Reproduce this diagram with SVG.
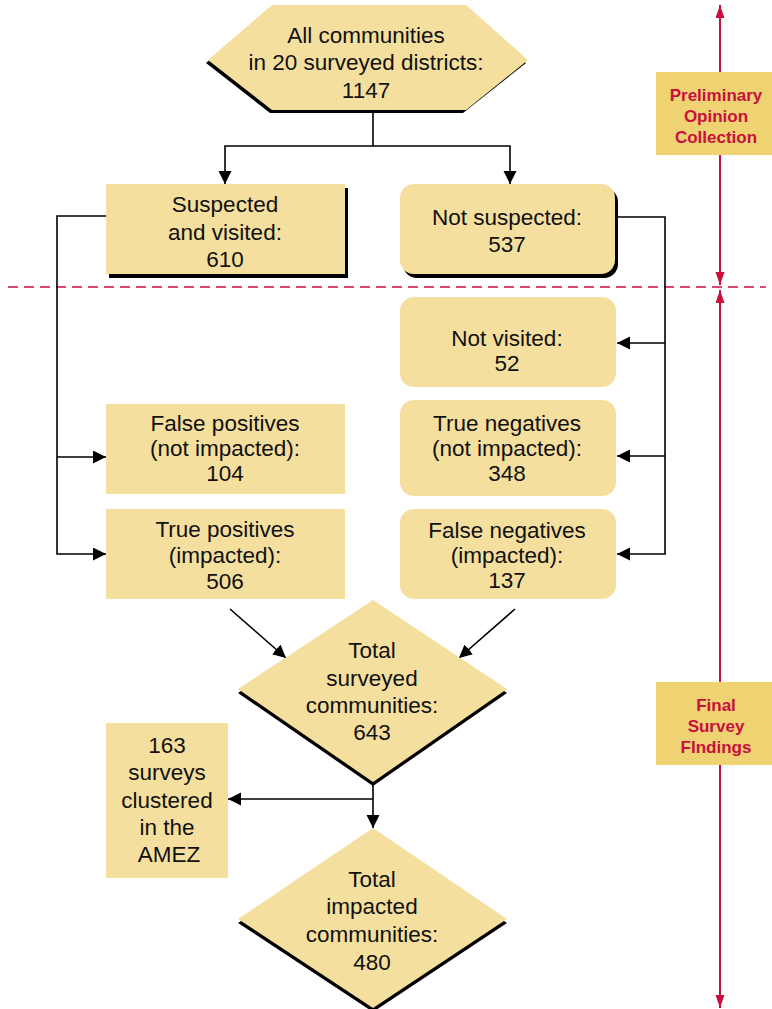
<svg xmlns="http://www.w3.org/2000/svg" width="772" height="1009" viewBox="0 0 772 1009">
<defs>
<style>
.n{fill:#F5DF9E}
.sh{fill:#000}
.t{font-family:"Liberation Sans",Arial,Helvetica,sans-serif;font-size:22.5px;fill:#111;text-anchor:middle}
.lb{font-family:"Liberation Sans",Arial,Helvetica,sans-serif;font-size:17px;font-weight:bold;fill:#C8103E;text-anchor:middle}
.lbox{fill:#EFD272}
.c{fill:none;stroke:#000;stroke-width:1.6}
.ax{fill:none;stroke:#C8103E;stroke-width:2}
.dash{fill:none;stroke:#C8103E;stroke-width:1.6;stroke-dasharray:10,6}
</style>
<marker id="ah" markerWidth="14" markerHeight="14" refX="13" refY="6.5" orient="auto" markerUnits="userSpaceOnUse">
<path d="M0,0 L13,6.5 L0,13 Z" fill="#000"/>
</marker>
<marker id="rh" markerWidth="14" markerHeight="10" refX="13" refY="4.5" orient="auto" markerUnits="userSpaceOnUse">
<path d="M0,0 L13,4.5 L0,9 Z" fill="#C8103E"/>
</marker>
</defs>
<rect width="772" height="1009" fill="#fff"/>

<g id="dashed-divider">
<line class="dash" x1="8" y1="287" x2="766" y2="287"/>
</g>

<g id="phase-axis">
<line class="ax" x1="720" y1="284" x2="720" y2="5" marker-end="url(#rh)"/>
<line class="ax" x1="720" y1="155" x2="720" y2="285" marker-end="url(#rh)"/>
<line class="ax" x1="720" y1="682" x2="720" y2="290" marker-end="url(#rh)"/>
<line class="ax" x1="720" y1="765" x2="720" y2="1008" marker-end="url(#rh)"/>
</g>

<g id="label-preliminary">
<rect class="lbox" x="656" y="72" width="116" height="83"/>
<text class="lb" x="716" y="101">Preliminary</text>
<text class="lb" x="716" y="122">Opinion</text>
<text class="lb" x="716" y="143">Collection</text>
</g>

<g id="label-final">
<rect class="lbox" x="656" y="682" width="116" height="83"/>
<text class="lb" x="716" y="711">Final</text>
<text class="lb" x="716" y="732">Survey</text>
<text class="lb" x="716" y="753">FIndings</text>
</g>

<g id="connectors">
<polyline class="c" points="373,110 373,146 225,146 225,184" marker-end="url(#ah)"/>
<polyline class="c" points="373,146 510,146 510,184" marker-end="url(#ah)"/>
<polyline class="c" points="106,216 57,216 57,554 106,554" marker-end="url(#ah)"/>
<line class="c" x1="57" y1="457" x2="106" y2="457" marker-end="url(#ah)"/>
<polyline class="c" points="618,217 665,217 665,554 617,554" marker-end="url(#ah)"/>
<line class="c" x1="665" y1="343" x2="617" y2="343" marker-end="url(#ah)"/>
<line class="c" x1="665" y1="456" x2="617" y2="456" marker-end="url(#ah)"/>
<line class="c" x1="230" y1="609" x2="286" y2="658" marker-end="url(#ah)"/>
<line class="c" x1="515" y1="609" x2="459" y2="658" marker-end="url(#ah)"/>
<line class="c" x1="373" y1="784" x2="373" y2="828" marker-end="url(#ah)"/>
<line class="c" x1="373" y1="799" x2="228" y2="799" marker-end="url(#ah)"/>
</g>

<g id="all-communities">
<polygon class="sh" points="270,8 466,8 526,63 463,113 270,113 206,63"/>
<polygon class="n" points="272,5 466,5 528,60 466,110 272,110 208,60"/>
<text class="t" x="366" y="43">All communities</text>
<text class="t" x="366" y="70">in 20 surveyed districts:</text>
<text class="t" x="366" y="98">1147</text>
</g>

<g id="suspected-visited">
<rect class="sh" x="109" y="188" width="239" height="90"/>
<rect class="n" x="106" y="184" width="239" height="90"/>
<text class="t" x="225" y="212">Suspected</text>
<text class="t" x="225" y="240">and visited:</text>
<text class="t" x="225" y="267">610</text>
</g>

<g id="not-suspected">
<rect class="sh" x="403" y="188" width="215" height="90" rx="14"/>
<rect class="n" x="400" y="184" width="215" height="90" rx="14"/>
<text class="t" x="507" y="225">Not suspected:</text>
<text class="t" x="507" y="252">537</text>
</g>

<g id="not-visited">
<rect class="n" x="400" y="297" width="216" height="90" rx="14"/>
<text class="t" x="507" y="346">Not visited:</text>
<text class="t" x="507" y="371">52</text>
</g>

<g id="false-positives">
<rect class="n" x="106" y="404" width="239" height="90"/>
<text class="t" x="225" y="431">False positives</text>
<text class="t" x="225" y="456">(not impacted):</text>
<text class="t" x="225" y="481">104</text>
</g>

<g id="true-positives">
<rect class="n" x="106" y="509" width="239" height="90"/>
<text class="t" x="225" y="537">True positives</text>
<text class="t" x="225" y="563">(impacted):</text>
<text class="t" x="225" y="589">506</text>
</g>

<g id="true-negatives">
<rect class="n" x="400" y="400" width="216" height="96" rx="14"/>
<text class="t" x="507" y="431">True negatives</text>
<text class="t" x="507" y="456">(not impacted):</text>
<text class="t" x="507" y="481">348</text>
</g>

<g id="false-negatives">
<rect class="n" x="400" y="509" width="216" height="90" rx="14"/>
<text class="t" x="507" y="538">False negatives</text>
<text class="t" x="507" y="563">(impacted):</text>
<text class="t" x="507" y="588">137</text>
</g>

<g id="total-surveyed">
<polygon class="sh" points="373,604 507,693 373,786 238,693"/>
<polygon class="n" points="373,600 507,689 373,782 238,689"/>
<text class="t" x="372" y="658">Total</text>
<text class="t" x="372" y="686">surveyed</text>
<text class="t" x="372" y="713">communities:</text>
<text class="t" x="372" y="740">643</text>
</g>

<g id="amez-clustered">
<rect class="n" x="106" y="723" width="122" height="155"/>
<text class="t" x="167" y="753">163</text>
<text class="t" x="167" y="780">surveys</text>
<text class="t" x="167" y="808">clustered</text>
<text class="t" x="167" y="835">in the</text>
<text class="t" x="169" y="862">AMEZ</text>
</g>

<g id="total-impacted">
<polygon class="sh" points="373,832 507,923 373,1012 238,923"/>
<polygon class="n" points="373,828 507,919 373,1008 238,919"/>
<text class="t" x="372" y="887">Total</text>
<text class="t" x="372" y="914">impacted</text>
<text class="t" x="372" y="942">communities:</text>
<text class="t" x="372" y="970">480</text>
</g>
</svg>
